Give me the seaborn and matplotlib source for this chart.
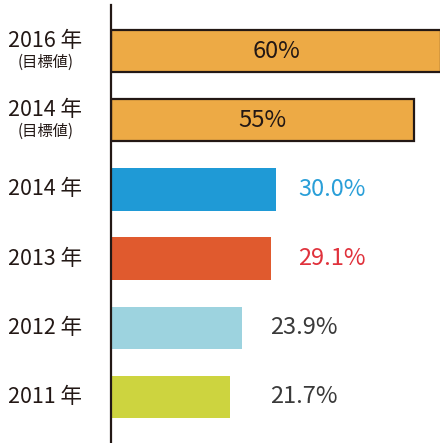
"""Horizontal bar chart of yearly rates with targets"""
import math
import matplotlib
matplotlib.use("Agg")
import matplotlib.pyplot as plt
import matplotlib.transforms as mtransforms
import pandas as pd
import seaborn as sns

YEARS = ["2016 年", "2014 年", "2014 年", "2013 年", "2012 年", "2011 年"]
NOTES = ["(目標値)", "(目標値)", "", "", "", ""]
VALUES = [60, 55, 30.0, 29.1, 23.9, 21.7]
VALUE_TEXT = ["60%", "55%", "30.0%", "29.1%", "23.9%", "21.7%"]
IS_TARGET = [True, True, False, False, False, False]
BAR_COLORS = ["#EDAA45", "#EDAA45", "#1F9AD6", "#E05A2E", "#9DD3DF", "#CDD43F"]
TEXT_COLORS = ["#231815", "#231815", "#2A9FD8", "#E0323C", "#3A3A3A", "#3A3A3A"]

DARK = "#231815"

df = pd.DataFrame({"key": [f"{y}{n}{i}" for i, (y, n) in enumerate(zip(YEARS, NOTES))],
                   "value": VALUES})

sns.set_style("white")
plt.rcParams["font.family"] = ["Noto Sans CJK JP", "DejaVu Sans"]

fig = plt.figure(figsize=(4.4, 4.43), dpi=100)
ax = fig.add_axes([111 / 440, 0.0, 1 - 111 / 440, 438 / 443])

sns.barplot(data=df, x="value", y="key", hue="key", palette=BAR_COLORS,
            legend=False, width=0.61, orient="h", saturation=1, ax=ax)

for cont, target in zip(ax.containers, IS_TARGET):
    for bar in cont:
        if target:
            bar.set_edgecolor(DARK)
            bar.set_linewidth(1.6)
        else:
            bar.set_linewidth(0)

ax.set_xlim(0, 329 / 5.5)
ax.set_ylim(len(VALUES) - 1 + 0.665, -0.665)
ax.set_xticks([])
ax.set_yticks([])
ax.set_xlabel("")
ax.set_ylabel("")
for side in ["top", "right", "bottom"]:
    ax.spines[side].set_visible(False)
ax.spines["left"].set_color(DARK)
ax.spines["left"].set_linewidth(1.6)
ax.spines["left"].set_zorder(5)

# category labels left of the axis
trans = mtransforms.blended_transform_factory(ax.transAxes, ax.transData)
for i, (year, note) in enumerate(zip(YEARS, NOTES)):
    if note:
        ax.text(-0.2, i - 0.15, year, transform=trans, ha="center", va="center",
                fontsize=15.5, color=DARK)
        ax.text(-0.2, i + 0.16, note, transform=trans, ha="center", va="center",
                fontsize=11, color=DARK)
    else:
        ax.text(-0.2, i, year, transform=trans, ha="center", va="center",
                fontsize=15.5, color=DARK)

# value labels
for i, (val, txt, col, target) in enumerate(zip(VALUES, VALUE_TEXT, TEXT_COLORS, IS_TARGET)):
    if target:
        ax.text(val / 2, i, txt, ha="center", va="center", fontsize=17, color=col)
    else:
        ax.text(math.ceil(val / 5) * 5 + 4, i, txt, ha="left", va="center",
                fontsize=17, color=col)

fig.savefig("out.png", dpi=100)
